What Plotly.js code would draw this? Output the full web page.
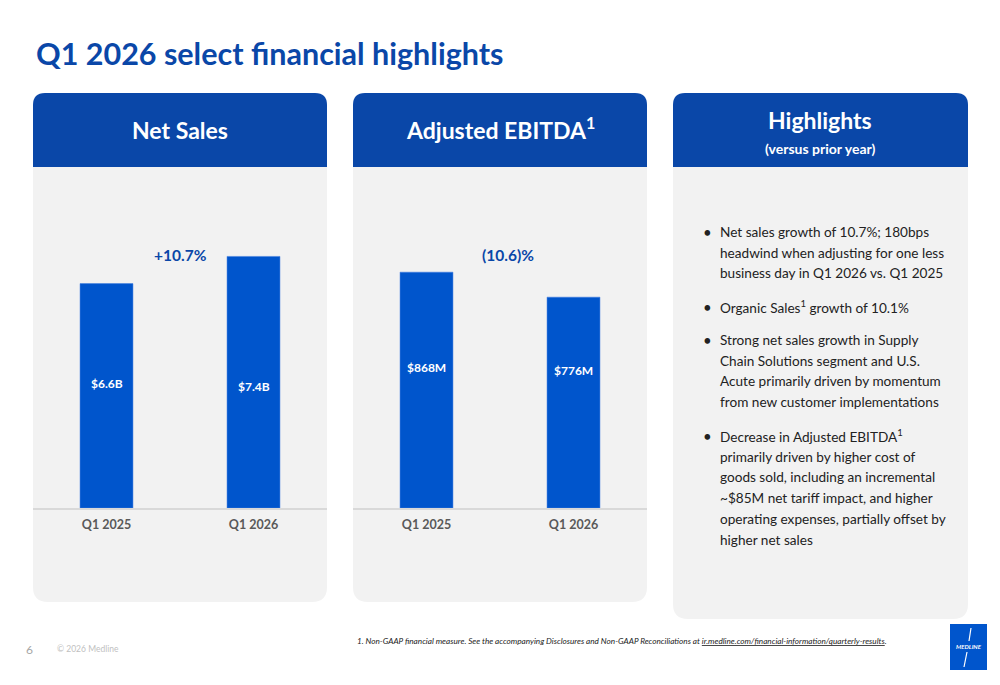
<!DOCTYPE html>
<html>
<head>
<meta charset="utf-8">
<script src="https://cdn.plot.ly/plotly-3.0.1.min.js"></script>
<style>html,body{margin:0;padding:0;background:#fff;}#chart{width:1000px;height:685px;}</style>
</head>
<body>
<div id="chart"></div>
<script>
// ---- data ----
const periods = ["Q1 2025", "Q1 2026"];
const netSales = [6.6, 7.4];            // $B
const netSalesLabels = ["$6.6B", "$7.4B"];
const netSalesChange = "+10.7%";
const ebitda = [868, 776];              // $M
const ebitdaLabels = ["$868M", "$776M"];
const ebitdaChange = "(10.6)%";
const highlights = [
  ["Net sales growth of 10.7%; 180bps", "headwind when adjusting for one less", "business day in Q1 2026 vs. Q1 2025"],
  ["Organic Sales<sup>1</sup> growth of 10.1%"],
  ["Strong net sales growth in Supply", "Chain Solutions segment and U.S.", "Acute primarily driven by momentum", "from new customer implementations"],
  ["Decrease in Adjusted EBITDA<sup>1</sup>", "primarily driven by higher cost of", "goods sold, including an incremental", "~$85M net tariff impact, and higher", "operating expenses, partially offset by", "higher net sales"]
];

// ---- style ----
const W = 1000, H = 685;
const FONT = "Lato, 'Open Sans', sans-serif";
const HEADER_BLUE = "#0a47a8";
const BAR_BLUE = "#0055cc";
const PANEL_GRAY = "#f2f2f2";
const px = x => x / W;
const py = y => 1 - y / H;

function roundedPath(x0, y0, x1, y1, rTop, rBot) {
  const P = (x, y) => px(x).toFixed(5) + "," + py(y).toFixed(5);
  let d = "M" + P(x0 + rTop, y0) + " L" + P(x1 - rTop, y0);
  if (rTop) d += " Q" + P(x1, y0) + " " + P(x1, y0 + rTop);
  d += " L" + P(x1, y1 - rBot);
  if (rBot) d += " Q" + P(x1, y1) + " " + P(x1 - rBot, y1);
  d += " L" + P(x0 + rBot, y1);
  if (rBot) d += " Q" + P(x0, y1) + " " + P(x0, y1 - rBot);
  d += " L" + P(x0, y0 + rTop);
  if (rTop) d += " Q" + P(x0, y0) + " " + P(x0 + rTop, y0);
  return d + " Z";
}

const panels = [[33, 327, 602], [353, 647, 602], [673, 968, 619]];
const shapes = [];
panels.forEach(([x0, x1, yb]) => {
  shapes.push({type: "path", xref: "paper", yref: "paper", layer: "below",
    path: roundedPath(x0, 167, x1, yb, 0, 15), fillcolor: PANEL_GRAY, line: {width: 0}});
  shapes.push({type: "path", xref: "paper", yref: "paper", layer: "below",
    path: roundedPath(x0, 93, x1, 167, 12, 0), fillcolor: HEADER_BLUE, line: {width: 0}});
});
// logo box
shapes.push({type: "rect", xref: "paper", yref: "paper", layer: "above",
  x0: px(950), x1: px(987), y0: py(670), y1: py(624), fillcolor: BAR_BLUE, line: {width: 0}});
shapes.push({type: "path", xref: "paper", yref: "paper", layer: "above",
  path: "M" + px(971) + "," + py(628) + " L" + px(969) + "," + py(641) + " M" + px(967) + "," + py(652) + " L" + px(964) + "," + py(667),
  line: {color: "#fff", width: 1.2}});

const yBase = 508, yTop = 167;
const barTrace = (vals, xa, ya) => ({
  type: "bar", x: periods, y: vals, xaxis: xa, yaxis: ya,
  marker: {color: BAR_BLUE, line: {color: "#3d7be0", width: 0.5}},
  width: 0.36, hoverinfo: "skip", showlegend: false
});

const traces = [
  barTrace(netSales, "x", "y"),
  barTrace(ebitda, "x2", "y2")
];

const axisX = (d) => ({
  domain: d, type: "category", range: [-0.5, 1.5], fixedrange: true,
  showline: true, linecolor: "#d9d9d9", linewidth: 2, showgrid: false, zeroline: false,
  ticks: "", ticklabelstandoff: 4,
  tickfont: {family: FONT, size: 12.5, color: "#595959", weight: "bold"}
});
const axisY = (r) => ({
  domain: [py(yBase), py(yTop)], range: r, visible: false, fixedrange: true,
  showgrid: false, zeroline: false
});

const ann = [];
const A = (text, x, y, size, color, opts) => Object.assign({
  text: text, x: px(x), y: py(y), xref: "paper", yref: "paper", showarrow: false,
  xanchor: "center", yanchor: "middle",
  font: {family: FONT, size: size, color: color}
}, opts || {});

// title
ann.push(A("<b>Q1 2026 select financial highlights</b>", 34, 53, 30.5, HEADER_BLUE, {xanchor: "left"}));
// headers
ann.push(A("<b>Net Sales</b>", 180, 130, 23, "#fff"));
ann.push(A("<b>Adjusted EBITDA<sup>1</sup></b>", 500, 128, 23, "#fff"));
ann.push(A("<b>Highlights</b>", 820, 120, 23, "#fff"));
ann.push(A("<b>(versus prior year)</b>", 820, 148, 14, "#fff"));
// change labels
ann.push(A("<b>" + netSalesChange + "</b>", 180, 255, 15.5, HEADER_BLUE));
ann.push(A("<b>" + ebitdaChange + "</b>", 508, 255, 15.5, HEADER_BLUE));
// value labels inside bars
const labelY = [[383, 387], [367, 370]];
[[netSalesLabels, "x", 0], [ebitdaLabels, "x2", 1]].forEach(([labs, xa, k]) => {
  labs.forEach((t, i) => {
    ann.push({text: "<b>" + t + "</b>", x: periods[i], xref: xa, y: py(labelY[k][i]), yref: "paper",
      xanchor: "center", yanchor: "middle",
      showarrow: false, font: {family: FONT, size: 12, color: "#fff"}});
  });
});
// bullets
const bulletTop = [232, 307, 340, 436];
const LINE = 20.7;
highlights.forEach((lines, i) => {
  ann.push(A("•", 701, bulletTop[i], 15, "#222", {xanchor: "left"}));
  lines.forEach((t, j) => {
    ann.push(A(t, 718, bulletTop[i] + j * LINE, 13.6, "#222", {xanchor: "left"}));
  });
});
// footer
ann.push(A("6", 24, 649, 12, "#a6a6a6", {xanchor: "left"}));
ann.push(A("© 2026 Medline", 55, 649, 8.5, "#bfbfbf", {xanchor: "left"}));
ann.push(A("<i>1. Non-GAAP financial measure. See the accompanying Disclosures and Non-GAAP Reconciliations at <span style='text-decoration:underline'>ir.medline.com/financial-information/quarterly-results</span>.</i>",
  355, 641, 8.2, "#222", {xanchor: "left"}));
ann.push(A("<b><i>MEDLINE</i></b>", 968.5, 646, 6, "#fff"));

const layout = {
  width: W, height: H, margin: {l: 0, r: 0, t: 0, b: 0},
  paper_bgcolor: "#fff", plot_bgcolor: "rgba(0,0,0,0)",
  xaxis: axisX([px(33), px(327)]), yaxis: axisY([0, 10.03]),
  xaxis2: Object.assign(axisX([px(353), px(647)]), {anchor: "y2"}),
  yaxis2: Object.assign(axisY([0, 1255]), {anchor: "x2"}),
  shapes: shapes, annotations: ann, bargap: 0.5,
  font: {family: FONT}
};

Plotly.newPlot("chart", traces, layout, {displayModeBar: false, staticPlot: true});
</script>
</body>
</html>
